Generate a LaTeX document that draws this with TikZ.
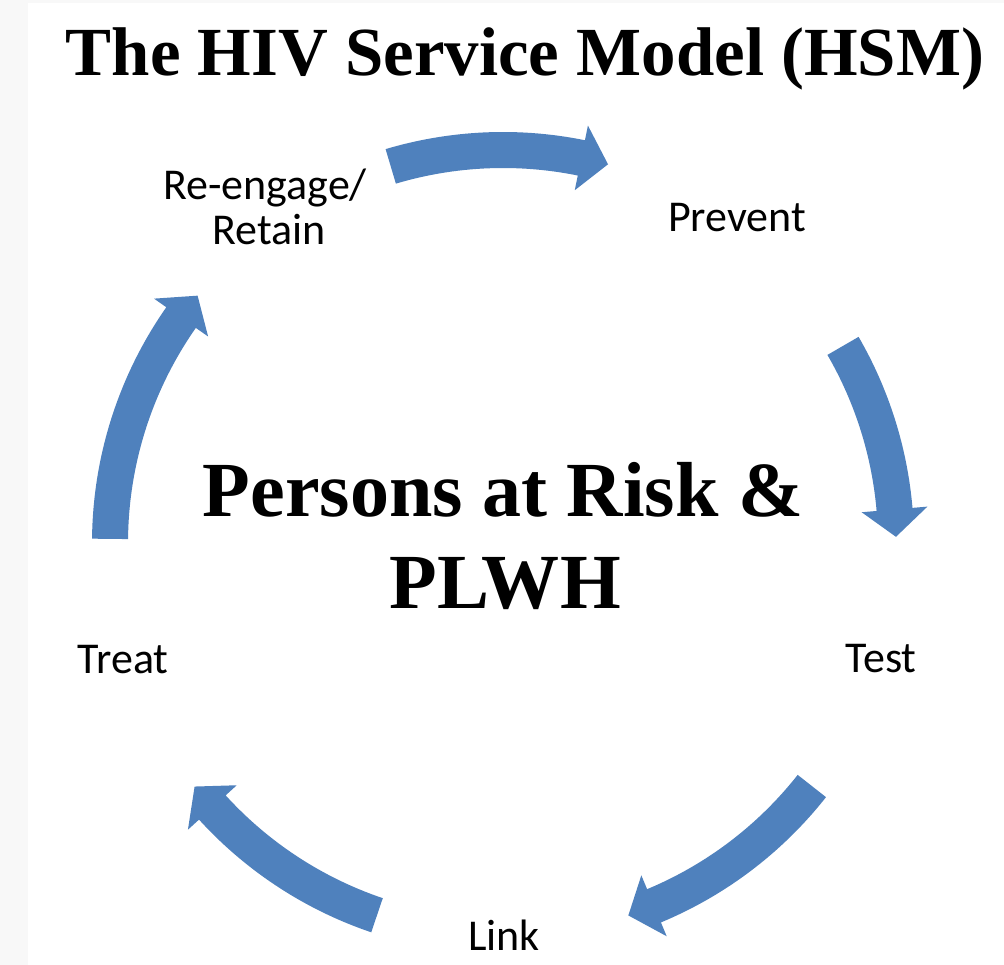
\documentclass[tikz,border=0pt]{standalone}
\usepackage{fontspec}
\setmainfont{Liberation Serif}
\newfontfamily\carlito{Carlito}
\usepackage{tikz}
\usetikzlibrary{calc,positioning}
\usepackage{xcolor}
\definecolor{hsmblue}{RGB}{79,129,189}
\definecolor{pagegray}{RGB}{248,248,248}
\newcommand{\lblfont}{\carlito\fontsize{31.3}{32}\selectfont}
\newcommand{\titlefont}{\bfseries\fontsize{49}{50}\selectfont}
\newcommand{\riskfont}{\bfseries\fontsize{55.5}{65}\selectfont}
\tikzset{
  lbl/.style={font=\lblfont,text=black,inner sep=0pt,anchor=base,align=center},
  big/.style={text=black,inner sep=0pt,anchor=base,align=center},
  hsmarrow/.style={fill=hsmblue,draw=none},
}

\begin{document}
\begin{tikzpicture}[x=0.25mm,y=0.25mm]
  \fill[pagegray] (0,0) rectangle (1004,965);
  \fill[white] (28,0) rectangle (1004,962);
  \useasboundingbox (0,0) rectangle (1004,965);
  \coordinate (C) at (503,422);
  % title and centre text
  \node[big,font=\titlefont](title) at (525,889){The HIV Service Model (HSM)};
  \node[big,font=\riskfont](risk) at (503,448){Persons at Risk \&};
  \node[big,font=\riskfont](plwh) at (505,356){PLWH};
  % cycle labels
  \node[lbl](prevent) at (737,733){Prevent};
  \node[lbl](test) at (881,292){Test};
  \node[lbl](link) at (504,14){Link};
  \node[lbl](treat) at (123,291){Treat};
  \node[lbl](reengage) at (265,765){Re-engage/};
  \node[lbl](retain) at (269,720){Retain};
  % arrows: tail angle / tip angle
  \foreach \t/\h [evaluate=\h as \f using \h+4] in
      {106.6/74.5, 30.1/0.9, -38.2/-71.4, -108.7/-141.7, 179.4/141}
    \fill[hsmarrow] ($(C)+(\t:411)$) arc[start angle=\t, end angle=\f, radius=411]
      -- ($(C)+(\f:426)$) -- ($(C)+(\h:393)$) -- ($(C)+(\f:360)$)
      -- ($(C)+(\f:375)$) arc[start angle=\f, end angle=\t, radius=375] -- cycle;
\end{tikzpicture}
\end{document}
